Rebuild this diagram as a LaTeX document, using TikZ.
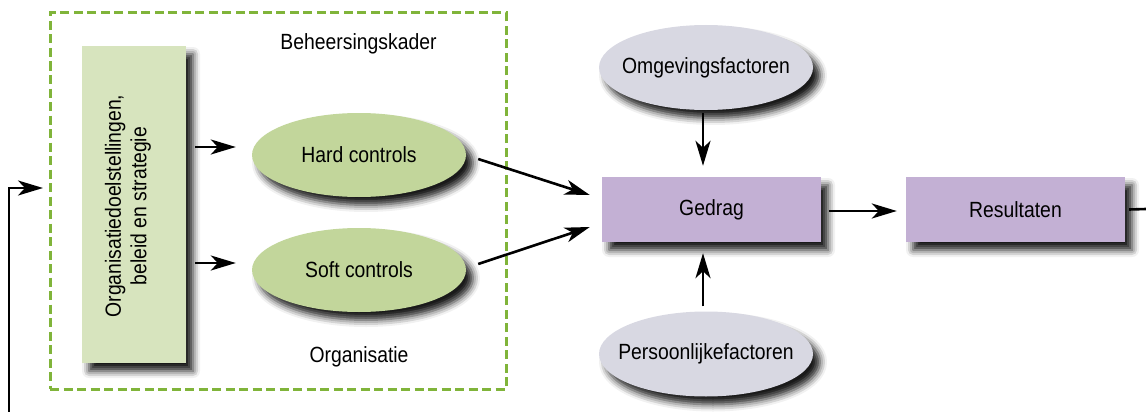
\documentclass[tikz,border=0pt]{standalone}
\usepackage{fontspec}
\setmainfont[FakeStretch=0.88]{Liberation Sans}
\usetikzlibrary{shapes.geometric,arrows.meta,calc,shadows.blur}
\definecolor{dashgreen}{RGB}{128,180,58}
\definecolor{lightgreen}{RGB}{215,228,190}
\definecolor{midgreen}{RGB}{194,214,155}
\definecolor{lilac}{RGB}{195,176,212}
\definecolor{lightgray}{RGB}{216,216,226}
\tikzset{
  shd/.style={blur shadow={shadow xshift=7pt,shadow yshift=-8pt,shadow blur radius=7pt,shadow opacity=90}},
  txt/.style={font=\fontsize{22}{25.5}\selectfont},
  orgbox/.style={draw=none,fill=lightgreen,minimum width=104pt,minimum height=317pt,inner sep=0pt,shd},
  ctrl/.style={ellipse,draw=none,fill=midgreen,minimum width=214pt,minimum height=84pt,inner sep=0pt,shd},
  factor/.style={ellipse,draw=none,fill=lightgray,minimum width=214pt,minimum height=85pt,inner sep=0pt,shd},
  purplebox/.style={draw=none,fill=lilac,minimum width=219pt,minimum height=65pt,inner sep=0pt,shd,txt},
  frame/.style={draw=dashgreen,line width=3pt,dash pattern=on 9pt off 4.5pt,minimum width=456pt,minimum height=376pt,inner sep=0pt},
  arr/.style={line width=2.6pt,-{Stealth[length=25pt,width=15pt,inset=7pt]}},
  plain/.style={line width=2.6pt}
}
\begin{document}
\begin{tikzpicture}[x=1pt,y=-1pt]
\useasboundingbox (0,0) rectangle (1146,412);
\node[frame] (kader) at (278,201) {};
\node[txt] (bhk) at (358.5,44) {Beheersingskader};
\node[txt] (orgt) at (359,357) {Organisatie};
\node[orgbox] (org) at (134,204.5) {};
\node[txt,rotate=90,align=center] (orgtext) at (128,206) {Organisatiedoelstellingen,\\beleid en strategie};
\node[ctrl,label={[txt]center:Hard controls}] (hard) at (359,155) {};
\node[ctrl,label={[txt]center:Soft controls}] (soft) at (359,270) {};
\node[factor,label={[txt]center:Omgevingsfactoren}] (omg) at (706,67.5) {};
\node[factor,label={[txt]center:Persoonlijkefactoren}] (pers) at (706,354) {};
\node[purplebox] (gedrag) at (711.5,209.5) {Gedrag};
\node[purplebox] (res) at (1015.5,209.5) {Resultaten};
\coordinate (fbstart) at (9,412);
\coordinate (fbin) at (43,188);
\coordinate (fbout) at (1146,209);
\draw[arr] ($(org.east|-hard.center)+(9,-8)$) -- ($(hard.west)+(-16,-8)$);
\draw[arr] ($(org.east|-soft.center)+(9,-7)$) -- ($(soft.west)+(-16,-7)$);
\draw[arr] ($(hard.east)+(12,4)$) -- ($(gedrag.west)+(-12,-14.5)$);
\draw[arr] ($(soft.east)+(12,-6)$) -- ($(gedrag.west)+(-12,17.5)$);
\draw[arr] ($(omg.south)+(-3,3)$) -- ($(gedrag.north)+(-8.5,-11)$);
\draw[arr] ($(pers.north)+(-3,-5)$) -- ($(gedrag.south)+(-8.5,11)$);
\draw[arr] ($(gedrag.east)+(8,1.5)$) -- ($(res.west)+(-9,1.5)$);
\draw[plain] ($(res.east)+(4,0)$) -- (fbout);
\draw[arr] (fbstart) |- (fbin);
\end{tikzpicture}
\end{document}
